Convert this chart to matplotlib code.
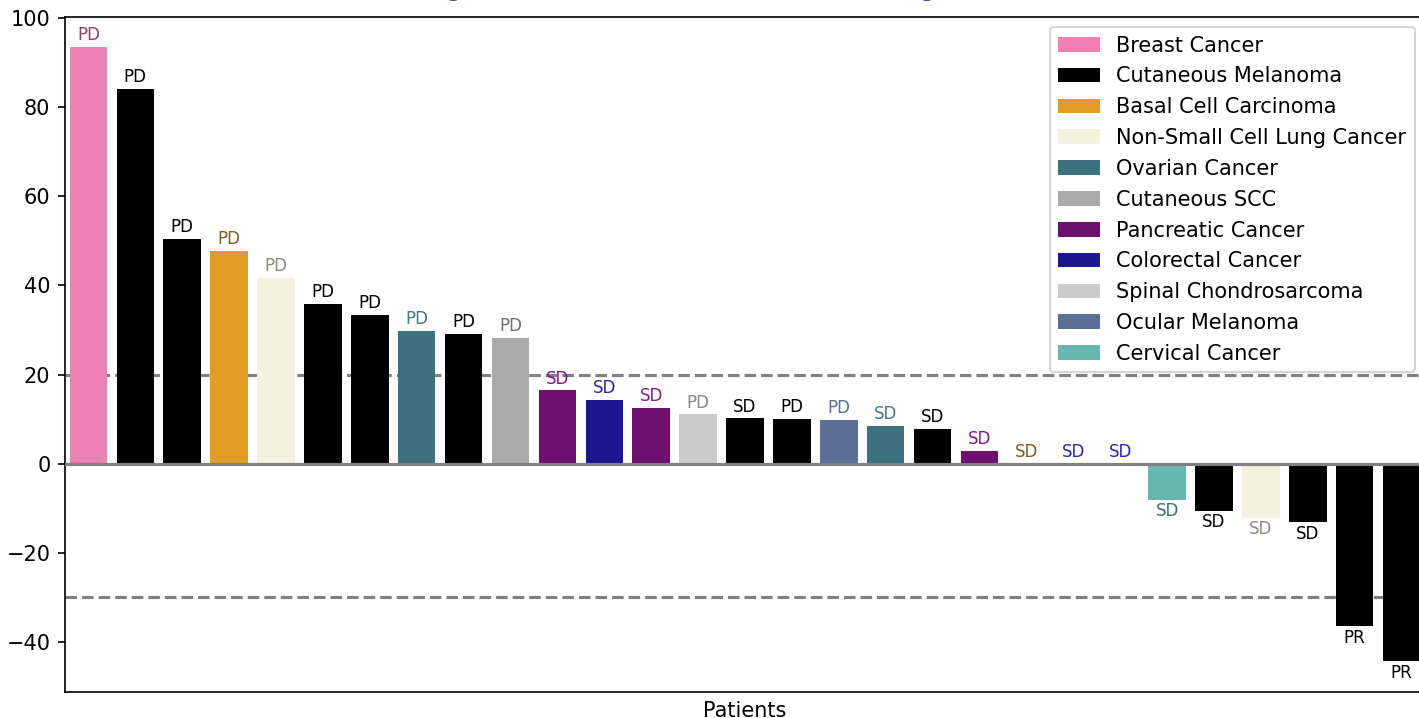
import matplotlib.pyplot as plt
from matplotlib.patches import Patch

# best percentage change per patient, sorted high to low
cancer_types = [
    'Breast Cancer', 'Cutaneous Melanoma', 'Cutaneous Melanoma', 'Basal Cell Carcinoma',
    'Non-Small Cell Lung Cancer', 'Cutaneous Melanoma', 'Cutaneous Melanoma', 'Ovarian Cancer',
    'Cutaneous Melanoma', 'Cutaneous SCC', 'Pancreatic Cancer', 'Colorectal Cancer',
    'Pancreatic Cancer', 'Spinal Chondrosarcoma', 'Cutaneous Melanoma', 'Cutaneous Melanoma',
    'Ocular Melanoma', 'Ovarian Cancer', 'Cutaneous Melanoma', 'Pancreatic Cancer',
    'Basal Cell Carcinoma', 'Colorectal Cancer', 'Colorectal Cancer', 'Cervical Cancer',
    'Cutaneous Melanoma', 'Non-Small Cell Lung Cancer', 'Cutaneous Melanoma',
    'Cutaneous Melanoma', 'Cutaneous Melanoma',
]
pct_change = [
    93.5, 84.1, 50.4, 47.8, 41.7, 35.9, 33.4, 29.8, 29.1, 28.3,
    16.5, 14.3, 12.6, 11.1, 10.2, 10.0, 9.8, 8.5, 7.9, 2.9,
    0.0, 0.0, 0.0, -8.1, -10.5, -12.1, -13.1, -36.5, -44.3,
]
responses = [
    'PD', 'PD', 'PD', 'PD', 'PD', 'PD', 'PD', 'PD', 'PD', 'PD',
    'SD', 'SD', 'SD', 'PD', 'SD', 'PD', 'PD', 'SD', 'SD', 'SD',
    'SD', 'SD', 'SD', 'SD', 'SD', 'SD', 'SD', 'PR', 'PR',
]

# bar colour, label colour
palette = {
    'Breast Cancer': ('#ee80b4', '#8c4668'),
    'Cutaneous Melanoma': ('#000000', '#000000'),
    'Basal Cell Carcinoma': ('#e09c24', '#7d5c25'),
    'Non-Small Cell Lung Cancer': ('#f2f2df', '#8a8a84'),
    'Ovarian Cancer': ('#3d717e', '#457888'),
    'Cutaneous SCC': ('#aaaaaa', '#707070'),
    'Pancreatic Cancer': ('#6f0f6f', '#821c82'),
    'Colorectal Cancer': ('#1c1691', '#2b26a6'),
    'Spinal Chondrosarcoma': ('#cccccc', '#888888'),
    'Ocular Melanoma': ('#5a6e96', '#5a6e96'),
    'Cervical Cancer': ('#66b8ae', '#3c6e68'),
}

plt.rcParams['font.size'] = 10
fig = plt.figure(figsize=(1419 / 150, 718 / 150), dpi=150)
ax = fig.add_axes([65 / 1419, 25.7 / 718, 1360 / 1419, 675.5 / 718])

x = list(range(len(pct_change)))
bar_colors = [palette[c][0] for c in cancer_types]
ax.bar(x, pct_change, width=0.8, color=bar_colors, zorder=2)

ax.axhline(0, color='gray', linewidth=1.5, zorder=3)
ax.axhline(20, color='gray', linestyle='--', linewidth=1.5, zorder=1)
ax.axhline(-30, color='gray', linestyle='--', linewidth=1.5, zorder=1)

for i, (v, r, c) in enumerate(zip(pct_change, responses, cancer_types)):
    if v >= 0:
        ax.text(i, v + 0.6, r, ha='center', va='bottom', fontsize=8, color=palette[c][1])
    else:
        ax.text(i, v - 0.6, r, ha='center', va='top', fontsize=8, color=palette[c][1])

ax.set_xlim(-0.5, 28.5)
ax.set_ylim(-51.3, 100.3)
ax.set_xticks([])
ax.set_yticks([-40, -20, 0, 20, 40, 60, 80, 100])
ax.set_xlabel('Patients', labelpad=4)
ax.set_title('Best Change in Tumour Size Across Cancer Histologies Studied to Date',
             fontsize=10, fontweight='bold', color='darkslateblue', pad=9.5)

handles = [Patch(facecolor=v[0], label=k) for k, v in palette.items()]
ax.legend(handles=handles, loc='upper right', fontsize=10, labelspacing=0.52)

fig.savefig('out.png', dpi=150)
